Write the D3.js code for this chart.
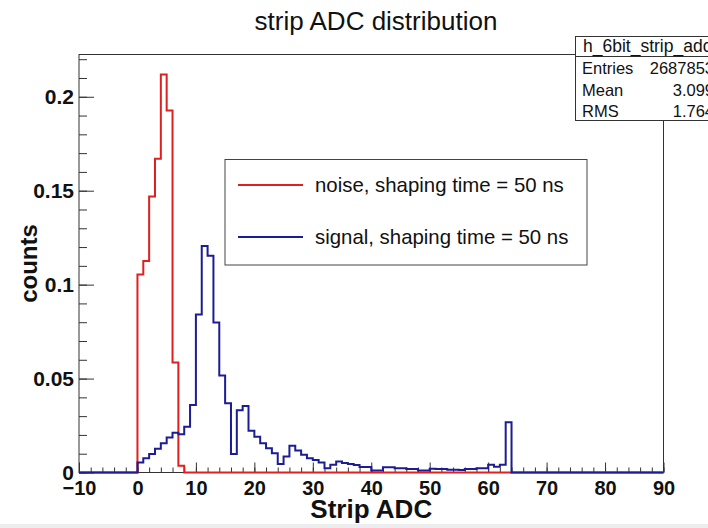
<!DOCTYPE html>
<html>
<head>
<meta charset="utf-8">
<script src="https://cdn.jsdelivr.net/npm/d3@7"></script>
<style>
  body { margin: 0; background: #fff; }
  text { font-family: "Liberation Sans", Arial, Helvetica, sans-serif; }
</style>
</head>
<body>
<div id="chart"></div>
<script>
// strip ADC distribution - noise vs signal histograms (1 ADC per bin, bins start at 0)
const firstBin = 0;
const noiseCounts = [0.1054, 0.1126, 0.1469, 0.1670, 0.2118, 0.1927, 0.0585, 0.0036];
const signalCounts = [
  0.0053, 0.0076, 0.0099, 0.0126, 0.0156, 0.0186, 0.0212, 0.0204, 0.0244, 0.0359,
  0.0841, 0.1205, 0.1154, 0.0798, 0.0516, 0.0368, 0.0098, 0.0332, 0.0354, 0.0222,
  0.0190, 0.0156, 0.0129, 0.0103, 0.0045, 0.0085, 0.0143, 0.0117, 0.0094, 0.0076,
  0.0067, 0.0053, 0.0023, 0.0041, 0.0058, 0.0050, 0.0045, 0.0040, 0.0029, 0.0029,
  0.0011, 0.0011, 0.0028, 0.0028, 0.0023, 0.0023, 0.0018, 0.0018, 0.0011, 0.0011,
  0.0020, 0.0018, 0.0018, 0.0015, 0.0015, 0.0013, 0.0018, 0.0018, 0.0023, 0.0023,
  0.0041, 0.0030, 0.0041, 0.0267
];
const xMajorTicks = [-10, 0, 10, 20, 30, 40, 50, 60, 70, 80, 90];
const yMajorTicks = [0, 0.05, 0.1, 0.15, 0.2];
const yTickLabels = ['0', '0.05', '0.1', '0.15', '0.2'];
const legendLabels = ['noise, shaping time = 50 ns', 'signal, shaping time = 50 ns'];
const statsNames = ['Entries', 'Mean', 'RMS'];
const statsValues = ['2687853', '3.099', '1.764'];

const svgWidth = 708, svgHeight = 528;
const padLeft = 79, padRight = 663.5, padTop = 54.5, padBottom = 472.5;
const red = '#e0201e', blue = '#1c1c94';

const svg = d3.select('#chart').append('svg')
  .attr('width', svgWidth)
  .attr('height', svgHeight);

// light strip at the bottom of the screenshot
svg.append('rect').attr('x', 0).attr('y', 524).attr('width', svgWidth).attr('height', 4).attr('fill', '#ededed');

const x = d3.scaleLinear().domain([-10, 90]).range([padLeft, padRight]);
const y = d3.scaleLinear().domain([0, 0.2225]).range([padBottom, padTop]);

// frame
svg.append('rect')
  .attr('x', padLeft).attr('y', padTop)
  .attr('width', padRight - padLeft).attr('height', padBottom - padTop)
  .attr('fill', 'none').attr('stroke', '#333').attr('stroke-width', 1);

// y axis: major + minor ticks pointing inward
svg.append('g')
  .attr('transform', `translate(${padLeft},0)`)
  .call(d3.axisLeft(y).tickValues(d3.range(0, 0.2225, 0.01)).tickSize(-8).tickFormat(''))
  .call(g => g.select('.domain').remove());
svg.append('g')
  .attr('transform', `translate(${padLeft},0)`)
  .call(d3.axisLeft(y).tickValues(yMajorTicks).tickSize(-15).tickPadding(5)
    .tickFormat((d, i) => yTickLabels[i]))
  .call(g => g.select('.domain').remove())
  .call(g => g.selectAll('text').attr('font-size', 21).attr('font-weight', 'bold').attr('fill', '#111'));

// x axis
svg.append('g')
  .attr('transform', `translate(0,${padBottom})`)
  .call(d3.axisBottom(x).tickValues(d3.range(-10, 91, 2)).tickSize(-5).tickFormat(''))
  .call(g => g.select('.domain').remove());
svg.append('g')
  .attr('transform', `translate(0,${padBottom})`)
  .call(d3.axisBottom(x).tickValues(xMajorTicks).tickSize(-10).tickPadding(8.5))
  .call(g => g.select('.domain').remove())
  .call(g => g.selectAll('text').attr('font-size', 20).attr('font-weight', 'bold').attr('fill', '#111'));

svg.selectAll('.tick line').attr('stroke', '#333');
svg.selectAll('.tick text').attr('font-family', '"Liberation Sans", Arial, sans-serif');

// histograms as step lines over the full axis range
function histPoints(values) {
  const pts = [];
  for (let e = -10; e < 90; e++) {
    const i = e - firstBin;
    pts.push([e, i >= 0 && i < values.length ? values[i] : 0]);
  }
  pts.push([90, 0]);
  return pts;
}
const step = d3.line().x(d => x(d[0])).y(d => y(d[1])).curve(d3.curveStepAfter);

svg.append('path').datum(histPoints(noiseCounts))
  .attr('d', step).attr('fill', 'none').attr('stroke', red).attr('stroke-width', 2);
svg.append('path').datum(histPoints(signalCounts))
  .attr('d', step).attr('fill', 'none').attr('stroke', blue).attr('stroke-width', 2);

// titles
svg.append('text')
  .text('strip ADC distribution')
  .attr('x', 376).attr('y', 30)
  .attr('text-anchor', 'middle').attr('font-size', 26).attr('fill', '#111');

svg.append('text')
  .text('Strip ADC')
  .attr('x', (padLeft + padRight) / 2).attr('y', 518)
  .attr('text-anchor', 'middle').attr('font-size', 26).attr('font-weight', 'bold').attr('fill', '#111');

svg.append('text')
  .text('counts')
  .attr('transform', `translate(37,${(padTop + padBottom) / 2}) rotate(-90)`)
  .attr('text-anchor', 'middle').attr('font-size', 24).attr('font-weight', 'bold').attr('fill', '#111');

// legend
const legend = svg.append('g');
legend.append('rect')
  .attr('x', 225).attr('y', 159.5).attr('width', 362).attr('height', 105.5)
  .attr('fill', '#fff').attr('stroke', '#444').attr('stroke-width', 1);
[red, blue].forEach((c, i) => {
  const ly = 185 + i * 52;
  legend.append('line')
    .attr('x1', 238).attr('x2', 303).attr('y1', ly).attr('y2', ly)
    .attr('stroke', c).attr('stroke-width', 2);
  legend.append('text')
    .text(legendLabels[i])
    .attr('x', 315).attr('y', ly).attr('dy', '0.35em')
    .attr('font-size', 20.4).attr('fill', '#111');
});

// stats box (runs off the right edge)
const stats = svg.append('g');
stats.append('rect')
  .attr('x', 575.5).attr('y', 36.5).attr('width', 160).attr('height', 84)
  .attr('fill', '#fff').attr('stroke', '#333').attr('stroke-width', 1);
stats.append('line')
  .attr('x1', 575.5).attr('x2', 740).attr('y1', 56.5).attr('y2', 56.5)
  .attr('stroke', '#333');
stats.append('text')
  .text('h_6bit_strip_adc')
  .attr('x', 583).attr('y', 52).attr('font-size', 17.5).attr('fill', '#111');
statsNames.forEach((n, i) => {
  const by = 74 + i * 21.5;
  stats.append('text').text(n).attr('x', 582).attr('y', by).attr('font-size', 16.5).attr('fill', '#111');
  stats.append('text').text(statsValues[i]).attr('x', 714).attr('y', by)
    .attr('text-anchor', 'end').attr('font-size', 16.5).attr('fill', '#111');
});
</script>
</body>
</html>
